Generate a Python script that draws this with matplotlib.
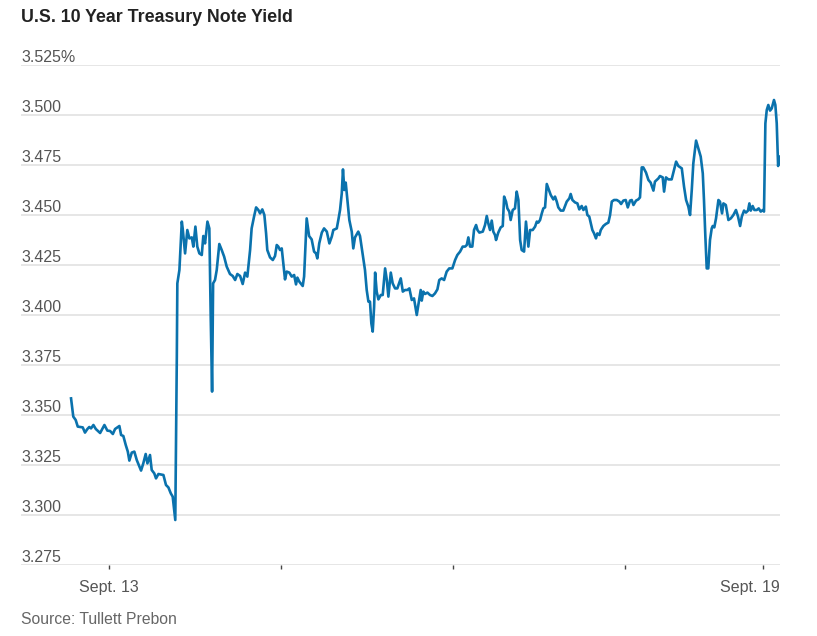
import matplotlib
matplotlib.use("Agg")
import matplotlib.pyplot as plt
import matplotlib.transforms as mtransforms

# trading-time axis: 0 = Sept. 13 tick, 1 unit = one trading day (weekend compressed)
days = [-0.221, -0.208, -0.194, -0.182, -0.153, -0.140, -0.126, -0.115, -0.105, -0.091,
        -0.077, -0.052, -0.027, -0.010, 0.006, 0.022, 0.035, 0.060, 0.070, 0.083,
        0.097, 0.109, 0.118, 0.132, 0.147, 0.161, 0.186, 0.199, 0.213, 0.223,
        0.238, 0.248, 0.263, 0.273, 0.287, 0.316, 0.331, 0.345, 0.359, 0.370,
        0.385, 0.394, 0.397, 0.409, 0.423, 0.428, 0.442, 0.455, 0.467, 0.481,
        0.490, 0.502, 0.513, 0.525, 0.539, 0.548, 0.558, 0.572, 0.583, 0.591,
        0.599, 0.605, 0.616, 0.626, 0.641, 0.655, 0.669, 0.684, 0.703, 0.719,
        0.733, 0.746, 0.762, 0.777, 0.791, 0.804, 0.820, 0.829, 0.843, 0.855,
        0.868, 0.878, 0.891, 0.903, 0.913, 0.920, 0.936, 0.952, 0.965, 0.975,
        0.984, 0.994, 1.004, 1.013, 1.023, 1.033, 1.048, 1.062, 1.076, 1.087,
        1.095, 1.106, 1.126, 1.134, 1.149, 1.163, 1.178, 1.192, 1.203, 1.211,
        1.222, 1.237, 1.250, 1.266, 1.281, 1.295, 1.304, 1.324, 1.333, 1.343,
        1.353, 1.360, 1.368, 1.376, 1.382, 1.397, 1.411, 1.420, 1.430, 1.449,
        1.459, 1.474, 1.488, 1.498, 1.508, 1.517, 1.525, 1.533, 1.541, 1.547,
        1.556, 1.566, 1.580, 1.591, 1.605, 1.615, 1.624, 1.638, 1.649, 1.663,
        1.676, 1.696, 1.708, 1.721, 1.734, 1.746, 1.760, 1.773, 1.789, 1.802,
        1.812, 1.818, 1.827, 1.837, 1.851, 1.866, 1.880, 1.895, 1.909, 1.920,
        1.934, 1.948, 1.963, 1.978, 1.996, 2.012, 2.025, 2.041, 2.056, 2.070,
        2.080, 2.089, 2.099, 2.112, 2.122, 2.134, 2.142, 2.153, 2.173, 2.186,
        2.196, 2.205, 2.215, 2.225, 2.234, 2.244, 2.250, 2.263, 2.277, 2.289,
        2.297, 2.308, 2.316, 2.327, 2.335, 2.347, 2.360, 2.370, 2.380, 2.390,
        2.399, 2.413, 2.424, 2.438, 2.448, 2.463, 2.477, 2.487, 2.496, 2.506,
        2.516, 2.525, 2.535, 2.545, 2.554, 2.568, 2.583, 2.593, 2.603, 2.612,
        2.626, 2.641, 2.651, 2.661, 2.676, 2.684, 2.694, 2.709, 2.723, 2.734,
        2.748, 2.758, 2.772, 2.781, 2.792, 2.801, 2.810, 2.820, 2.831, 2.839,
        2.851, 2.859, 2.874, 2.888, 2.903, 2.913, 2.923, 2.936, 2.952, 2.967,
        2.977, 2.990, 3.004, 3.016, 3.029, 3.039, 3.049, 3.064, 3.077, 3.087,
        3.097, 3.106, 3.122, 3.136, 3.149, 3.165, 3.174, 3.194, 3.203, 3.219,
        3.227, 3.238, 3.252, 3.271, 3.285, 3.297, 3.310, 3.330, 3.343, 3.355,
        3.368, 3.378, 3.388, 3.397, 3.413, 3.426, 3.440, 3.452, 3.459, 3.467,
        3.475, 3.484, 3.494, 3.504, 3.510, 3.519, 3.529, 3.543, 3.552, 3.564,
        3.572, 3.586, 3.601, 3.615, 3.630, 3.645, 3.657, 3.669, 3.679, 3.692,
        3.703, 3.715, 3.723, 3.731, 3.742, 3.752, 3.766, 3.777, 3.789, 3.801,
        3.808, 3.816, 3.824, 3.833, 3.843, 3.853, 3.866, 3.874, 3.882, 3.890,
        3.897]

yields = [3.3583, 3.3492, 3.3475, 3.3442, 3.3438, 3.3412, 3.3430, 3.3440, 3.3433, 3.3450,
          3.3430, 3.3410, 3.3450, 3.3422, 3.3420, 3.3405, 3.3430, 3.3445, 3.3400, 3.3395,
          3.3350, 3.3317, 3.3272, 3.3312, 3.3317, 3.3275, 3.3222, 3.3258, 3.3305, 3.3258,
          3.3300, 3.3225, 3.3208, 3.3183, 3.3205, 3.3200, 3.3150, 3.3138, 3.3108, 3.3092,
          3.2975, 3.3792, 3.4158, 3.4225, 3.4467, 3.4433, 3.4308, 3.4425, 3.4383, 3.4388,
          3.4342, 3.4442, 3.4342, 3.4308, 3.4300, 3.4395, 3.4358, 3.4467, 3.4433, 3.3992,
          3.3617, 3.4158, 3.4175, 3.4225, 3.4355, 3.4325, 3.4292, 3.4242, 3.4205, 3.4195,
          3.4175, 3.4205, 3.4195, 3.4155, 3.4212, 3.4192, 3.4325, 3.4433, 3.4492, 3.4538,
          3.4525, 3.4508, 3.4528, 3.4500, 3.4408, 3.4325, 3.4288, 3.4275, 3.4295, 3.4350,
          3.4342, 3.4325, 3.4333, 3.4258, 3.4178, 3.4217, 3.4212, 3.4192, 3.4200, 3.4153,
          3.4187, 3.4167, 3.4145, 3.4192, 3.4483, 3.4395, 3.4378, 3.4317, 3.4308, 3.4283,
          3.4358, 3.4412, 3.4433, 3.4417, 3.4358, 3.4392, 3.4425, 3.4433, 3.4475, 3.4525,
          3.4608, 3.4728, 3.4625, 3.4662, 3.4608, 3.4475, 3.4417, 3.4333, 3.4388, 3.4417,
          3.4395, 3.4308, 3.4225, 3.4125, 3.4067, 3.4067, 3.3958, 3.3917, 3.4040, 3.4212,
          3.4117, 3.4078, 3.4100, 3.4100, 3.4233, 3.4175, 3.4092, 3.4212, 3.4158, 3.4133,
          3.4133, 3.4183, 3.4117, 3.4125, 3.4125, 3.4133, 3.4075, 3.4083, 3.4000, 3.4072,
          3.4125, 3.4072, 3.4117, 3.4105, 3.4112, 3.4100, 3.4095, 3.4108, 3.4128, 3.4175,
          3.4183, 3.4175, 3.4217, 3.4233, 3.4233, 3.4275, 3.4300, 3.4317, 3.4342, 3.4342,
          3.4350, 3.4388, 3.4342, 3.4342, 3.4425, 3.4450, 3.4425, 3.4412, 3.4417, 3.4450,
          3.4495, 3.4458, 3.4425, 3.4472, 3.4417, 3.4400, 3.4375, 3.4412, 3.4438, 3.4445,
          3.4592, 3.4567, 3.4533, 3.4517, 3.4475, 3.4525, 3.4533, 3.4617, 3.4575, 3.4375,
          3.4325, 3.4317, 3.4467, 3.4342, 3.4425, 3.4425, 3.4442, 3.4467, 3.4462, 3.4475,
          3.4508, 3.4533, 3.4538, 3.4655, 3.4633, 3.4600, 3.4578, 3.4592, 3.4567, 3.4538,
          3.4522, 3.4522, 3.4545, 3.4567, 3.4583, 3.4605, 3.4575, 3.4563, 3.4558, 3.4528,
          3.4545, 3.4525, 3.4542, 3.4500, 3.4492, 3.4458, 3.4425, 3.4408, 3.4383, 3.4408,
          3.4400, 3.4425, 3.4445, 3.4455, 3.4462, 3.4500, 3.4567, 3.4575, 3.4575, 3.4567,
          3.4555, 3.4572, 3.4575, 3.4538, 3.4572, 3.4575, 3.4550, 3.4572, 3.4578, 3.4588,
          3.4738, 3.4738, 3.4712, 3.4675, 3.4662, 3.4622, 3.4667, 3.4683, 3.4695, 3.4688,
          3.4617, 3.4688, 3.4678, 3.4678, 3.4725, 3.4767, 3.4745, 3.4733, 3.4642, 3.4575,
          3.4542, 3.4500, 3.4625, 3.4758, 3.4872, 3.4833, 3.4792, 3.4708, 3.4575, 3.4392,
          3.4233, 3.4233, 3.4375, 3.4433, 3.4445, 3.4438, 3.4483, 3.4575, 3.4567, 3.4508,
          3.4558, 3.4550, 3.4475, 3.4483, 3.4500, 3.4525, 3.4492, 3.4445, 3.4492, 3.4522,
          3.4512, 3.4522, 3.4558, 3.4522, 3.4545, 3.4525, 3.4525, 3.4533, 3.4517, 3.4525,
          3.4517, 3.4958, 3.5025, 3.5050, 3.5022, 3.5033, 3.5075, 3.5050, 3.4958, 3.4745,
          3.4792]

y_ticks = [3.275, 3.300, 3.325, 3.350, 3.375, 3.400, 3.425, 3.450, 3.475, 3.500, 3.525]
x_ticks = [0, 1, 2, 3, 3.80]
x_labels = ["Sept. 13", "", "", "", "Sept. 19"]

plt.rcParams['font.family'] = ["Liberation Sans Narrow", "Liberation Sans", "DejaVu Sans"]

fig = plt.figure(figsize=(8.17, 6.36), dpi=100)
ax = fig.add_axes([21 / 817, 1 - 565 / 636, 759 / 817, 500 / 636])

ax.plot(days, yields, color="#0a72ad", linewidth=1.9, solid_joinstyle="round", zorder=3)

ax.set_xlim(-0.512, 3.901)
ax.set_ylim(3.275, 3.525)
ax.set_yticks(y_ticks)
ax.tick_params(axis="y", left=False, labelleft=False)
ax.grid(axis="y", color="#e2e2e2", linewidth=1.2, zorder=0)
ax.set_axisbelow(True)
for s in ax.spines.values():
    s.set_visible(False)

# y labels sit just above the gridlines on the left
ytrans = ax.get_yaxis_transform()
for v in y_ticks:
    lab = f"{v:.3f}%" if v == y_ticks[-1] else f"{v:.3f}"
    ax.text(0, v + 0.0014, lab, transform=ytrans, ha="left", va="baseline",
            fontsize=11.5, color="#555555")

ax.set_xticks(x_ticks, labels=x_labels)
ax.tick_params(axis="x", length=3, width=1, color="#444444", pad=8,
               labelsize=11.5, labelcolor="#555555")
lbls = ax.get_xticklabels()
shift = mtransforms.ScaledTranslation(-0.13, 0, fig.dpi_scale_trans)
lbls[-1].set_transform(lbls[-1].get_transform() + shift)

fig.text(21 / 817, 1 - 18 / 636, "U.S. 10 Year Treasury Note Yield", ha="left", va="center",
         fontsize=12.8, fontweight="bold", color="#222222")
fig.text(21 / 817, 1 - 619 / 636, "Source: Tullett Prebon", ha="left", va="center",
         fontsize=11.3, color="#666666")

fig.savefig("out.png", dpi=100)
